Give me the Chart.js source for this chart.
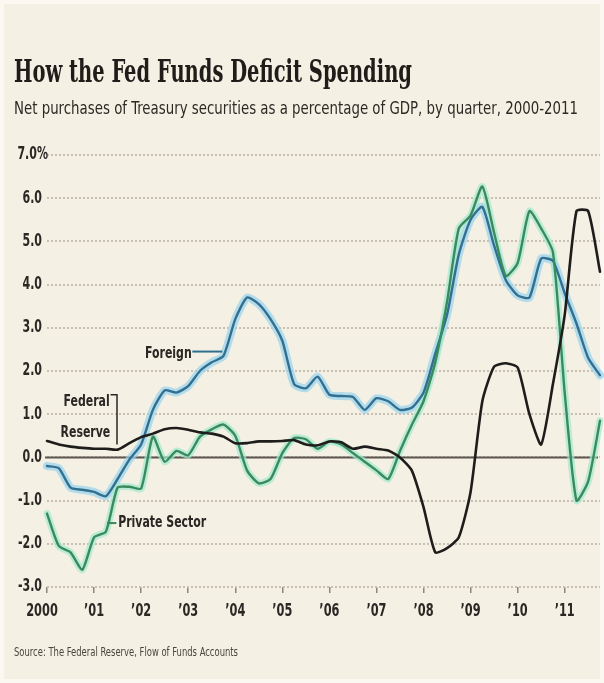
<!DOCTYPE html>
<html>
<head>
<meta charset="utf-8">
<script src="https://cdn.jsdelivr.net/npm/chart.js@4/dist/chart.umd.min.js"></script>
<style>
  html, body { margin: 0; padding: 0; }
  body { width: 604px; height: 683px; background: #faf8f1; position: relative; overflow: hidden; }
  #panel { position: absolute; left: 4px; top: 4px; right: 4px; bottom: 4px; background: #f4f0e3; }
  .txt { position: absolute; white-space: nowrap; transform-origin: 0 0; color: #262320; }
  #title { left: 14px; top: 52px; font: bold 32px "DejaVu Serif Condensed", "DejaVu Serif", serif; color: #1f1c19; }
  #subtitle { left: 14px; top: 98px; font: 17px "DejaVu Sans Condensed", "DejaVu Sans", sans-serif; color: #2d2a26; }
  #source { left: 14px; top: 645px; font: 12px "DejaVu Sans Condensed", "DejaVu Sans", sans-serif; color: #4a4540; }
  canvas { position: absolute; left: 0; top: 0; }
</style>
</head>
<body>
<div id="panel"></div>
<canvas id="chart" width="604" height="683"></canvas>
<div id="title" class="txt">How the Fed Funds Deficit Spending</div>
<div id="subtitle" class="txt">Net purchases of Treasury securities as a percentage of GDP, by quarter, 2000-2011</div>
<div id="source" class="txt">Source: The Federal Reserve, Flow of Funds Accounts</div>
<script>
// quarterly, 2000 Q1 .. 2011 Q4
const yearLabels = ["2000", "’01", "’02", "’03", "’04", "’05", "’06", "’07", "’08", "’09", "’10", "’11"];
const yTicks = [-3, -2, -1, 0, 1, 2, 3, 4, 5, 6, 7];

const foreign = [-0.2, -0.25, -0.7, -0.75, -0.8, -0.9, -0.5, -0.05, 0.3, 1.1,
  1.55, 1.5, 1.65, 2.0, 2.2, 2.35, 3.2, 3.7, 3.55, 3.2,
  2.7, 1.7, 1.6, 1.87, 1.45, 1.42, 1.4, 1.1, 1.37, 1.3,
  1.1, 1.15, 1.5, 2.4, 3.3, 4.7, 5.5, 5.8, 4.9, 4.1,
  3.75, 3.7, 4.6, 4.55, 3.8, 3.1, 2.3, 1.9];

const privateSector = [-1.3, -2.05, -2.2, -2.6, -1.85, -1.72, -0.7, -0.68, -0.72, 0.48,
  -0.1, 0.15, 0.05, 0.48, 0.65, 0.76, 0.5, -0.3, -0.6, -0.5,
  0.1, 0.45, 0.42, 0.2, 0.37, 0.3, 0.1, -0.1, -0.3, -0.5,
  0.15, 0.75, 1.3, 2.2, 3.6, 5.3, 5.6, 6.27, 5.2, 4.2,
  4.5, 5.7, 5.3, 4.75, 1.5, -1.0, -0.55, 0.85];

const fedReserve = [0.38, 0.3, 0.25, 0.22, 0.2, 0.2, 0.18, 0.33, 0.47, 0.55,
  0.65, 0.68, 0.64, 0.58, 0.55, 0.48, 0.33, 0.33, 0.37, 0.37,
  0.38, 0.4, 0.3, 0.28, 0.37, 0.35, 0.2, 0.25, 0.2, 0.16,
  0.0, -0.3, -1.15, -2.2, -2.1, -1.85, -0.8, 1.3, 2.1, 2.18,
  2.08, 1.0, 0.3, 1.7, 3.3, 5.7, 5.7, 4.3];

// squeeze html text to its column width
function fitWidth(id, w) {
  const el = document.getElementById(id);
  const s = w / el.getBoundingClientRect().width;
  el.style.transform = "scaleX(" + s + ")";
}
fitWidth("title", 398);
fitWidth("subtitle", 564);
fitWidth("source", 224);

const pts = arr => arr.map((v, i) => ({ x: i, y: v }));
const condensed = '"DejaVu Sans Condensed", "DejaVu Sans", sans-serif';
const ink = "#2a2724";

// narrow text: draw horizontally squeezed by sx
function narrowText(ctx, text, x, y, align, sx) {
  ctx.save();
  ctx.translate(x, y);
  ctx.scale(sx, 1);
  ctx.textAlign = align;
  ctx.fillText(text, 0, 0);
  ctx.restore();
}

function line(data, color, width, order) {
  return {
    data: pts(data), borderColor: color, borderWidth: width, order: order,
    pointRadius: 0, tension: 0.2, fill: false, clip: false,
    borderCapStyle: "round", borderJoinStyle: "round"
  };
}

// zero line, axis labels and the series call-outs
const annotations = {
  id: "annotations",
  beforeDatasetsDraw(chart) {
    const { ctx, chartArea: a, scales: { y } } = chart;
    ctx.save();
    ctx.strokeStyle = "#5d5650";
    ctx.lineWidth = 2;
    ctx.beginPath();
    ctx.moveTo(a.left - 2, y.getPixelForValue(0));
    ctx.lineTo(a.right - 2, y.getPixelForValue(0));
    ctx.stroke();
    ctx.restore();
  },
  afterDatasetsDraw(chart) {
    const { ctx, scales: { x, y } } = chart;
    ctx.save();
    ctx.fillStyle = ink;
    ctx.textBaseline = "middle";

    // axis labels
    ctx.font = "bold 17px " + condensed;
    yTicks.forEach(v => {
      const py = y.getPixelForValue(v);
      if (v === 7) narrowText(ctx, "7.0%", 48, py, "right", 0.72);
      else narrowText(ctx, v.toFixed(1), 42, py, "right", 0.72);
    });
    ctx.font = "bold 18px " + condensed;
    yearLabels.forEach((t, i) => {
      narrowText(ctx, t, x.getPixelForValue(i * 4) - (i === 0 ? 5 : 0), 611, "center", 0.7);
    });

    // Foreign
    ctx.font = "bold 16px " + condensed;
    narrowText(ctx, "Foreign", x.getPixelForValue(12.3), y.getPixelForValue(2.4), "right", 0.76);
    ctx.strokeStyle = "#2e6f90";
    ctx.lineWidth = 2;
    ctx.beginPath();
    ctx.moveTo(x.getPixelForValue(12.35), y.getPixelForValue(2.45));
    ctx.lineTo(x.getPixelForValue(14.9), y.getPixelForValue(2.45));
    ctx.stroke();

    // Federal Reserve with bracket
    ctx.strokeStyle = ink;
    ctx.lineWidth = 1.5;
    narrowText(ctx, "Federal", x.getPixelForValue(1.4), y.getPixelForValue(1.28), "left", 0.76);
    narrowText(ctx, "Reserve", x.getPixelForValue(1.15), y.getPixelForValue(0.56), "left", 0.76);
    ctx.beginPath();
    ctx.moveTo(x.getPixelForValue(5.4), y.getPixelForValue(1.45));
    ctx.lineTo(x.getPixelForValue(5.95), y.getPixelForValue(1.45));
    ctx.lineTo(x.getPixelForValue(5.95), y.getPixelForValue(0.3));
    ctx.stroke();

    // Private Sector
    narrowText(ctx, "Private Sector", x.getPixelForValue(6.05), y.getPixelForValue(-1.52), "left", 0.76);
    ctx.strokeStyle = "#3a8a5c";
    ctx.lineWidth = 2;
    ctx.beginPath();
    ctx.moveTo(x.getPixelForValue(5.1), y.getPixelForValue(-1.52));
    ctx.lineTo(x.getPixelForValue(5.9), y.getPixelForValue(-1.52));
    ctx.stroke();
    ctx.restore();
  }
};

new Chart(document.getElementById("chart").getContext("2d"), {
  type: "line",
  data: {
    datasets: [
      line(fedReserve, "#1f1d1b", 2.6, 1),
      line(privateSector, "#3b8a5e", 2.4, 2),
      line(foreign, "#336f8e", 2.4, 3),
      line(privateSector, "rgba(160,232,206,0.7)", 7, 10),
      line(foreign, "rgba(150,210,238,0.7)", 8, 11)
    ]
  },
  options: {
    responsive: false,
    animation: false,
    events: [],
    layout: { padding: { left: 0, right: 4, top: 155, bottom: 56 } },
    plugins: { legend: { display: false }, tooltip: { enabled: false } },
    scales: {
      x: {
        type: "linear", min: 0, max: 47,
        afterBuildTicks: s => { s.ticks = yearLabels.map((_, i) => ({ value: i * 4 })); },
        afterFit: s => { s.height = 40; },
        border: { display: false },
        grid: { drawOnChartArea: false, drawTicks: true, tickLength: 6, color: "#8d857b", lineWidth: 1.5 },
        ticks: { display: false }
      },
      y: {
        min: -3, max: 7,
        afterBuildTicks: s => { s.ticks = yTicks.map(v => ({ value: v })); },
        afterFit: s => { s.width = 47; },
        border: { display: false, dash: [2, 2] },
        grid: { drawTicks: false, color: "#c8c0b3", lineWidth: 2 },
        ticks: { display: false }
      }
    }
  },
  plugins: [annotations]
});
</script>
</body>
</html>
